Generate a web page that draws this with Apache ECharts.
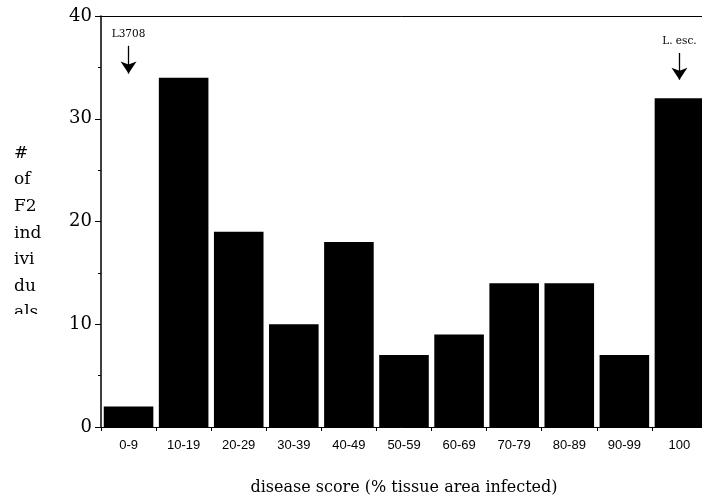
<!DOCTYPE html>
<html><head><meta charset="utf-8">
<script src="https://cdn.jsdelivr.net/npm/echarts@6/dist/echarts.min.js"></script>
<style>html,body{margin:0;padding:0;background:#fff}#c{width:702px;height:500px}</style>
</head><body><div id="c"></div>
<script>
var categories = ['0-9','10-19','20-29','30-39','40-49','50-59','60-69','70-79','80-89','90-99','100'];
var counts = [2, 34, 19, 10, 18, 7, 9, 14, 14, 7, 32];
var yTicks = [0, 10, 20, 30, 40];
var annotations = [
  {cat: '0-9', label: 'L3708', from: 37.1, to: 34.4},
  {cat: '100', label: 'L. esc.', from: 36.4, to: 33.8}
];
var yName = ['#', 'of', 'F2', 'ind', 'ivi', 'du', 'als'];
var xName = 'disease score (% tissue area infected)';

var chart = echarts.init(document.getElementById('c'), null, {renderer: 'canvas'});
var serif = 'DejaVu Serif';
chart.setOption({
  animation: false,
  backgroundColor: '#fff',
  grid: {left: 101, top: 16, width: 606, height: 411, containLabel: false, outerBoundsMode: 'none'},
  xAxis: [{
    type: 'category', data: categories, position: 'bottom',
    axisLine: {lineStyle: {color: '#000', width: 1}},
    axisTick: {show: true, length: 4, lineStyle: {color: '#000'}},
    axisLabel: {color: '#000', fontFamily: 'Liberation Sans', fontSize: 13, margin: 12},
    name: xName, nameLocation: 'middle', nameGap: 53,
    nameTextStyle: {color: '#000', fontFamily: serif, fontSize: 16}
  }, {
    type: 'category', data: categories, position: 'top',
    axisLine: {show: true, lineStyle: {color: '#000', width: 1}},
    axisTick: {show: false}, axisLabel: {show: false}
  }],
  yAxis: {
    type: 'value', min: yTicks[0], max: yTicks[yTicks.length - 1], interval: 10,
    axisLine: {show: true, lineStyle: {color: '#000', width: 1.5}},
    axisTick: {show: true, length: 6, lineStyle: {color: '#000'}},
    minorTick: {show: true, splitNumber: 2, length: 3, lineStyle: {color: '#000'}},
    splitLine: {show: false},
    axisLabel: {color: '#000', fontFamily: serif, fontSize: 18, margin: 9}
  },
  series: [{
    type: 'bar', data: counts, xAxisIndex: 0,
    barCategoryGap: '10%',
    itemStyle: {color: '#000'},
    markLine: {
      silent: true,
      symbol: ['none', 'arrow'], symbolSize: 12,
      lineStyle: {color: '#000', width: 1.3, type: 'solid'},
      label: {show: true, position: 'start', distance: 6, color: '#000', fontFamily: serif, fontSize: 10.5,
              formatter: function (p) { return p.name; }},
      data: annotations.map(function (a) {
        return [{name: a.label, coord: [a.cat, a.from]}, {coord: [a.cat, a.to]}];
      })
    }
  }],
  graphic: [{
    type: 'text', left: 14, top: 140, z: 10,
    style: {text: yName.join('\n'), fill: '#000', font: '17px "' + serif + '"', lineHeight: 26.6}
  }, {
    type: 'rect', left: 8, top: 314, z: 100, shape: {width: 60, height: 14}, style: {fill: '#fff'}
  }]
});
</script></body></html>
